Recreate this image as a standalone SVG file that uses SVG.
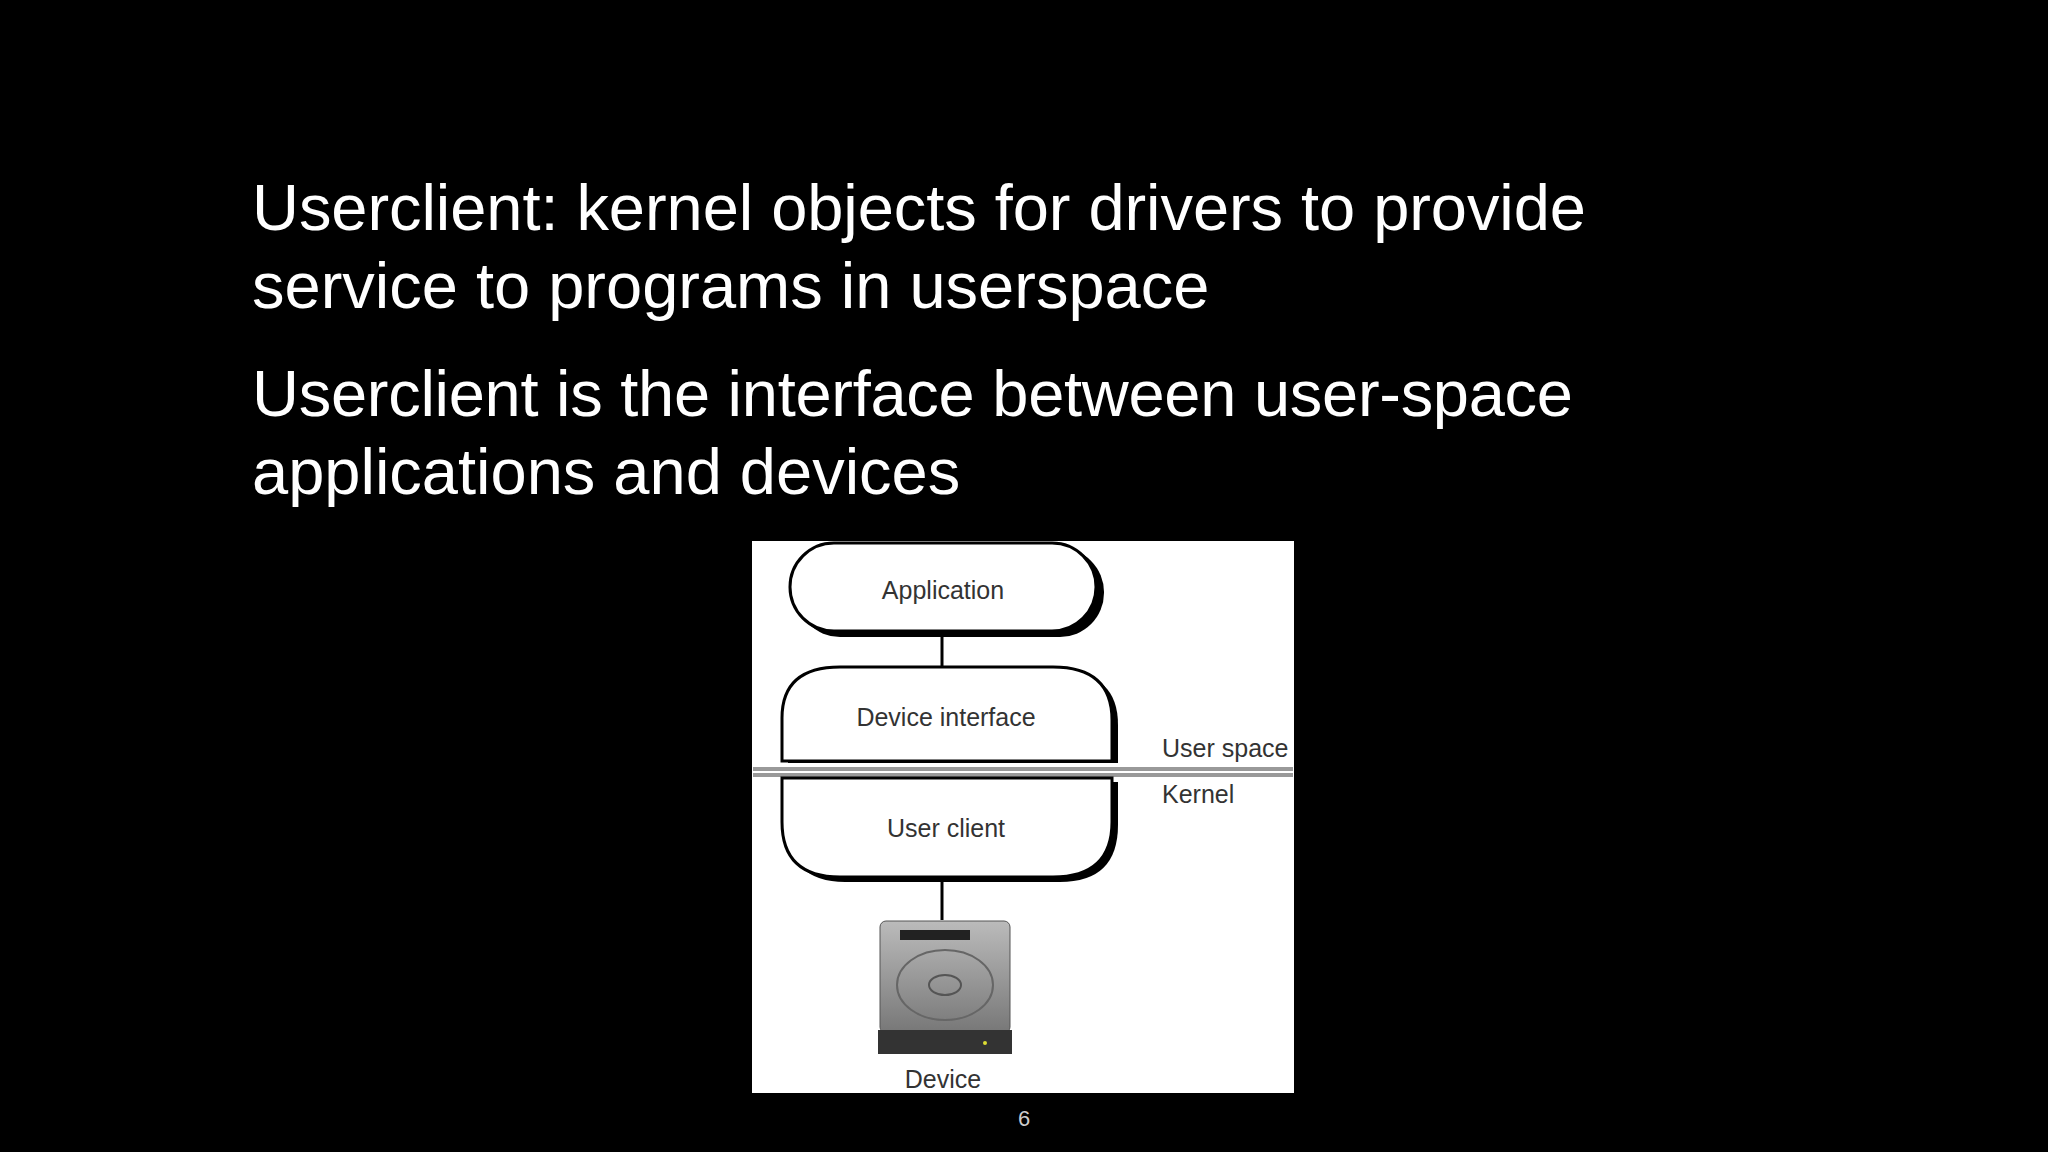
<svg xmlns="http://www.w3.org/2000/svg" width="2048" height="1152" viewBox="0 0 2048 1152">
<style>
.t{font-family:"Liberation Sans",Arial,sans-serif;fill:#fff;font-size:65px}
.l{font-family:"Liberation Sans",Arial,sans-serif;fill:#333;font-size:25px}
.sh{fill:#000}
.nd{fill:#fff;stroke:#000;stroke-width:3}
.c{stroke:#000;stroke-width:3}
</style>
<rect width="2048" height="1152" fill="#000"/>
<g id="title">
<text class="t" x="252" y="230" textLength="1334">Userclient: kernel objects for drivers to provide</text>
<text class="t" x="252" y="308">service to programs in userspace</text>
<text class="t" x="252" y="416" textLength="1321">Userclient is the interface between user-space</text>
<text class="t" x="252" y="494">applications and devices</text>
</g>
<rect x="752" y="541" width="542" height="552" fill="#fff"/>
<g id="connectors">
<line class="c" x1="942" y1="631" x2="942" y2="668"/>
<line class="c" x1="942" y1="879" x2="942" y2="920"/>
</g>
<g id="application">
<rect class="sh" x="796" y="548" width="308" height="89" rx="44"/>
<rect class="nd" x="790" y="543" width="306" height="88" rx="44"/>
<text class="l" x="943" y="599" text-anchor="middle">Application</text>
</g>
<g id="device-interface">
<path class="sh" d="M788 763 V720 Q788 672 845 672 H1060 Q1118 672 1118 725 V763 Z"/>
<path class="nd" d="M782 761 V718 Q782 667 840 667 H1053 Q1112 667 1112 720 V761 Z"/>
<text class="l" x="946" y="726" text-anchor="middle">Device interface</text>
</g>
<g id="divider">
<rect x="753" y="767" width="540" height="10" fill="#999"/>
<line x1="753" y1="772" x2="1293" y2="772" stroke="#fff" stroke-width="2"/>
<text class="l" x="1162" y="757">User space</text>
<text class="l" x="1162" y="803">Kernel</text>
</g>
<g id="user-client">
<path class="sh" d="M788 782 V825 Q788 882 845 882 H1060 Q1118 882 1118 825 V782 Z"/>
<path class="nd" d="M782 778 V822 Q782 877 840 877 H1053 Q1112 877 1112 822 V778 Z"/>
<text class="l" x="946" y="837" text-anchor="middle">User client</text>
</g>
<g id="device">
<defs><linearGradient id="g" x1="0" y1="0" x2="0" y2="1"><stop offset="0" stop-color="#bbb"/><stop offset="1" stop-color="#777"/></linearGradient></defs>
<rect x="880" y="921" width="130" height="112" rx="6" fill="url(#g)" stroke="#555"/>
<rect x="878" y="1030" width="134" height="24" fill="#333"/>
<rect x="900" y="930" width="70" height="10" fill="#222"/>
<ellipse cx="945" cy="985" rx="48" ry="35" fill="none" stroke="#666" stroke-width="2"/>
<ellipse cx="945" cy="985" rx="16" ry="10" fill="none" stroke="#555" stroke-width="2"/>
<circle cx="985" cy="1043" r="2" fill="#dd3"/>
<text class="l" x="943" y="1088" text-anchor="middle">Device</text>
</g>
<text x="1024" y="1126" text-anchor="middle" font-family="Liberation Sans,Arial,sans-serif" font-size="22" fill="#ccc">6</text>
</svg>
